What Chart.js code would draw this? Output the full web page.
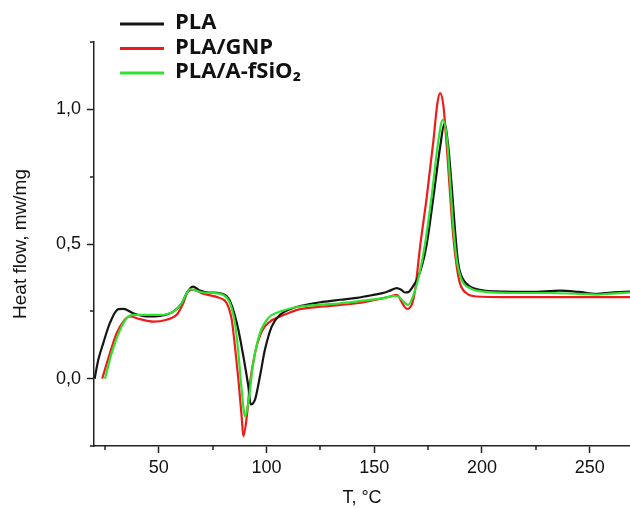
<!DOCTYPE html>
<html>
<head>
<meta charset="utf-8">
<script src="https://cdn.jsdelivr.net/npm/chart.js@4.4.1/dist/chart.umd.min.js"></script>
<style>
  html, body { margin: 0; padding: 0; background: #fff; }
  canvas { display: block; }
</style>
</head>
<body>
<canvas id="dscChart" width="630" height="509"></canvas>
<script>
// DSC-кривые, значения (T, °C / mW/mg)
const seriesNames = ['PLA', 'PLA/GNP', 'PLA/A-fSiO₂']

const plaT = [20.3, 22, 24.3, 27.4, 31.3, 33.6, 38.2, 44.4, 50.6, 56.8, 60.7, 63, 65.8, 69.2, 73, 78.5, 82.3, 84.6, 87, 89.3, 91.6, 92.7, 94.7, 97, 99.3, 102.5, 106.3, 110.9, 115.6, 126, 134.2, 142, 149.6, 155, 157.4, 160.5, 162.5, 164.3, 166, 167.4, 170.5, 172.5, 174.4, 177.5, 180.6, 182.6, 184.4, 186, 187.5, 189, 191.4, 194.5, 199.1, 210, 223, 236.2, 245, 253.3, 260, 268.7]
const plaV = [0.0, 0.07, 0.132, 0.207, 0.258, 0.259, 0.243, 0.231, 0.233, 0.249, 0.28, 0.317, 0.342, 0.327, 0.32, 0.317, 0.299, 0.256, 0.181, 0.083, -0.028, -0.096, -0.078, 0.009, 0.107, 0.194, 0.237, 0.258, 0.27, 0.285, 0.293, 0.3, 0.311, 0.32, 0.327, 0.336, 0.33, 0.32, 0.322, 0.335, 0.38, 0.43, 0.5, 0.675, 0.86, 0.947, 0.86, 0.712, 0.552, 0.428, 0.367, 0.342, 0.33, 0.323, 0.322, 0.327, 0.322, 0.315, 0.32, 0.323]

const gnpT = [23.8, 27.4, 30.5, 33.6, 36.7, 41.3, 47.5, 53.7, 58.4, 61.4, 63.8, 66.1, 70.7, 78.5, 81.6, 83.9, 85.4, 87, 88.5, 89.3, 90.9, 92.4, 94.7, 97.8, 101.7, 106.3, 110.9, 115.6, 126.4, 141.9, 154.2, 157.4, 160.5, 163.5, 165.1, 167.4, 169, 171.3, 174.4, 177.5, 179.3, 180.6, 182.1, 183.7, 185.2, 186.7, 188.3, 189.8, 192.9, 197.6, 210, 240, 268.7]
const gnpV = [0.0, 0.095, 0.169, 0.212, 0.231, 0.221, 0.212, 0.219, 0.237, 0.28, 0.327, 0.33, 0.315, 0.299, 0.28, 0.219, 0.12, -0.004, -0.14, -0.214, -0.14, -0.016, 0.095, 0.175, 0.212, 0.231, 0.246, 0.258, 0.268, 0.28, 0.299, 0.305, 0.311, 0.274, 0.259, 0.274, 0.33, 0.49, 0.675, 0.885, 1.021, 1.06, 1.015, 0.86, 0.687, 0.527, 0.416, 0.354, 0.317, 0.305, 0.303, 0.303, 0.303]

const sioT = [25.1, 28.2, 32.1, 35.2, 38.2, 44.4, 50.6, 56.8, 60.7, 63, 64.5, 66, 70.7, 75, 80, 83.1, 85.4, 87, 88.5, 90.1, 91.6, 93.9, 97, 100.9, 106.3, 115.6, 126, 134.2, 145, 154.2, 158.9, 161.2, 164.3, 165.8, 168.2, 171, 173.6, 176.7, 179.8, 181.8, 183.7, 185.2, 186.7, 188.3, 190.6, 194.5, 200.6, 215, 230, 245, 253, 260, 268.7]
const sioV = [0.0, 0.095, 0.181, 0.225, 0.237, 0.237, 0.237, 0.249, 0.28, 0.317, 0.332, 0.33, 0.32, 0.318, 0.311, 0.28, 0.206, 0.095, -0.041, -0.14, -0.09, 0.058, 0.169, 0.225, 0.249, 0.268, 0.275, 0.28, 0.29, 0.299, 0.307, 0.305, 0.28, 0.274, 0.31, 0.39, 0.5, 0.68, 0.885, 0.961, 0.897, 0.737, 0.564, 0.441, 0.367, 0.336, 0.323, 0.318, 0.318, 0.315, 0.312, 0.316, 0.32]

// деления осей (промежуточные — короче)
const xTicks = [25, 50, 75, 100, 125, 150, 175, 200, 225, 250]
const xLabels = [50, 100, 150, 200, 250]
const yTicks = [-0.25, 0, 0.25, 0.5, 0.75, 1, 1.25]
const yLabels = [0, 0.5, 1]

const toPoints = (ts, vs) => ts.map((t, i) => ({ x: t, y: vs[i] }))

const AXIS_COLOR = '#222'

// легенда поверх области графика, как в оригинале
const cornerLegend = {
  id: 'cornerLegend',
  afterDraw(chart) {
    const ctx = chart.ctx
    ctx.save()
    ctx.font = 'bold 22px "Open Sans", "DejaVu Sans", sans-serif'
    ctx.textBaseline = 'middle'
    ctx.textAlign = 'left'
    chart.data.datasets.forEach((ds, i) => {
      const y = 24 + i * 24.5
      ctx.strokeStyle = ds.borderColor
      ctx.lineWidth = 3
      ctx.beginPath()
      ctx.moveTo(120, y)
      ctx.lineTo(164, y)
      ctx.stroke()
      ctx.fillStyle = '#111'
      ctx.fillText(ds.label, 175, y - 1)
    })
    ctx.restore()
  }
}

// короткие промежуточные риски (основные рисует сама шкала)
const minorTicks = {
  id: 'minorTicks',
  afterDraw(chart) {
    const { ctx, scales: { x, y } } = chart
    ctx.save()
    ctx.strokeStyle = AXIS_COLOR
    ctx.lineWidth = 1.5
    ctx.beginPath()
    xTicks.filter(v => !xLabels.includes(v)).forEach(v => {
      const px = Math.round(x.getPixelForValue(v))
      ctx.moveTo(px, x.top)
      ctx.lineTo(px, x.top + 4)
    })
    yTicks.filter(v => !yLabels.includes(v)).forEach(v => {
      const py = Math.round(y.getPixelForValue(v))
      ctx.moveTo(y.right, py)
      ctx.lineTo(y.right - 4, py)
    })
    ctx.stroke()
    ctx.restore()
  }
}

const isMajor = (labels) => (c) => c.tick && labels.includes(c.tick.value) ? AXIS_COLOR : 'rgba(0,0,0,0)'

const axisBorder = { display: true, color: AXIS_COLOR, width: 1.5 }
const tickFont = { family: '"Liberation Sans", Arial, sans-serif', size: 18 }

new Chart(document.getElementById('dscChart'), {
  type: 'line',
  data: {
    datasets: [
      {
        label: seriesNames[0],
        data: toPoints(plaT, plaV),
        borderColor: '#151515',
        borderWidth: 2.2,
        order: 1
      },
      {
        label: seriesNames[1],
        data: toPoints(gnpT, gnpV),
        borderColor: '#ee1b1b',
        borderWidth: 2.2,
        order: 2
      },
      {
        label: seriesNames[2],
        data: toPoints(sioT, sioV),
        borderColor: '#2fe22f',
        borderWidth: 2.2,
        order: 0
      }
    ]
  },
  options: {
    responsive: false,
    animation: false,
    datasets: {
      line: {
        pointRadius: 0,
        fill: false,
        tension: 0.4,
        cubicInterpolationMode: 'monotone'
      }
    },
    layout: { padding: { top: 42, right: 0, left: 0, bottom: 0 } },
    plugins: {
      legend: { display: false },
      tooltip: { enabled: false }
    },
    scales: {
      x: {
        type: 'linear',
        min: 20,
        max: 268.7,
        afterBuildTicks: (scale) => { scale.ticks = xTicks.map(v => ({ value: v })) },
        afterFit: (scale) => { scale.height = 63 },
        grid: {
          drawOnChartArea: false,
          drawTicks: true,
          tickLength: 7,
          tickWidth: 1.5,
          color: AXIS_COLOR,
          tickColor: isMajor(xLabels)
        },
        border: axisBorder,
        ticks: {
          color: '#111',
          font: tickFont,
          padding: 4,
          maxRotation: 0,
          autoSkip: false,
          callback: (v) => xLabels.includes(v) ? String(v) : ''
        },
        title: {
          display: true,
          text: 'T, °C',
          color: '#111',
          font: tickFont,
          padding: { top: 0, bottom: 0 }
        }
      },
      y: {
        type: 'linear',
        min: -0.25,
        max: 1.25,
        afterBuildTicks: (scale) => { scale.ticks = yTicks.map(v => ({ value: v })) },
        afterFit: (scale) => { scale.width = 94 },
        grid: {
          drawOnChartArea: false,
          drawTicks: true,
          tickLength: 7,
          tickWidth: 1.5,
          color: AXIS_COLOR,
          tickColor: isMajor(yLabels)
        },
        border: axisBorder,
        ticks: {
          color: '#111',
          font: tickFont,
          padding: 6,
          autoSkip: false,
          callback: (v) => yLabels.includes(v) ? v.toFixed(1).replace('.', ',') : ''
        },
        title: {
          display: true,
          text: 'Heat flow, mw/mg',
          color: '#111',
          font: { family: '"Liberation Sans", Arial, sans-serif', size: 19 },
          padding: { top: 9, bottom: 0 }
        }
      }
    }
  },
  plugins: [minorTicks, cornerLegend]
})
</script>
</body>
</html>
